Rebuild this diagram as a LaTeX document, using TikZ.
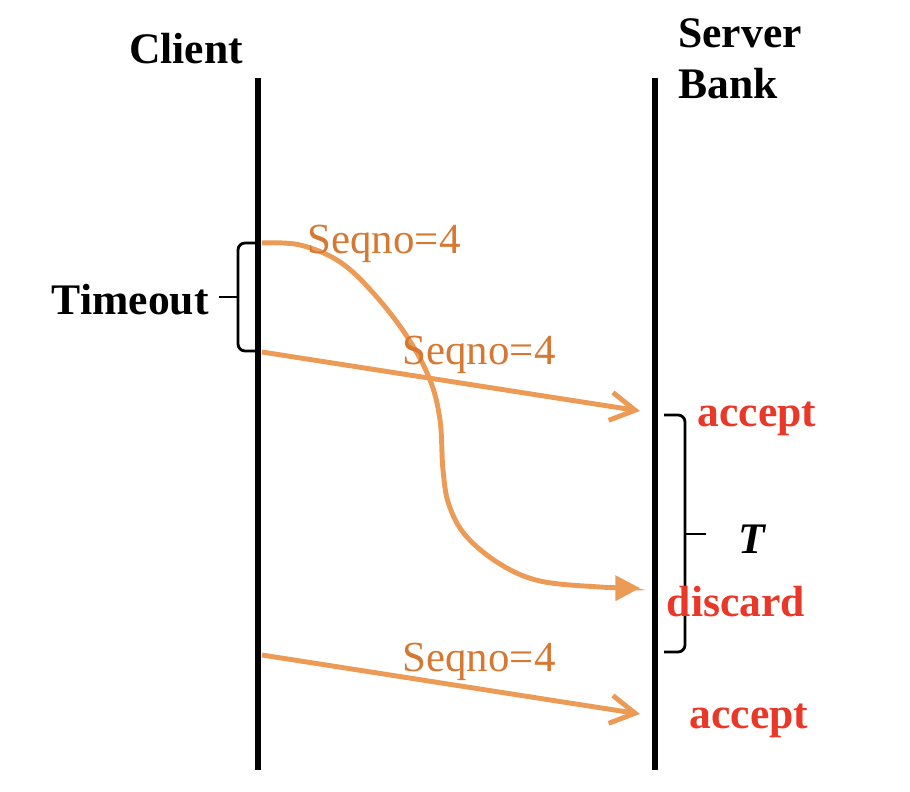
\documentclass[tikz,border=0pt]{standalone}
\usepackage{fontspec}
\setmainfont{Liberation Serif}
\usetikzlibrary{arrows.meta}
\definecolor{seqline}{RGB}{235,155,86}
\definecolor{seqtext}{RGB}{214,120,50}
\definecolor{verdict}{RGB}{233,55,40}
\tikzset{
  lifeline/.style={line width=1.5pt},
  msg/.style={seqline,line width=1.4pt,-{Straight Barb[length=7pt,width=8pt,line width=1.4pt]}},
  latemsg/.style={seqline,line width=1.4pt,-{Triangle[length=7pt,width=7pt]}},
  seqlabel/.style={text=seqtext,font=\fontsize{12.2}{14}\selectfont},
  verdictlabel/.style={text=verdict,font=\fontsize{12.4}{14}\selectfont\bfseries},
  hostlabel/.style={font=\fontsize{12.4}{14.5}\selectfont\bfseries},
  bracket/.style={line width=0.8pt,rounded corners=2pt}
}
\begin{document}
\begin{tikzpicture}[x=0.01cm,y=-0.01cm]
\useasboundingbox (0,0) rectangle (910,792);
%lifelines
\coordinate (cliTop) at (258,78);
\coordinate (cliBot) at (258,770);
\coordinate (srvTop) at (655,78);
\coordinate (srvBot) at (655,770);
\draw[lifeline] (cliTop) -- (cliBot);
\draw[lifeline] (srvTop) -- (srvBot);
\node[hostlabel] (client) at (186,49) {Client};
\node[hostlabel,align=left] (server) at (740,59) {Server\\Bank};
%send points on the client
\coordinate (send1) at (262,243);
\coordinate (send2) at (262,352);
\coordinate (send3) at (262,655);
%arrival points on the server
\coordinate (recv1) at (640,411);
\coordinate (recv2) at (640,588);
\coordinate (recv3) at (640,714);
%first copy, delayed
\draw[latemsg] plot[smooth,tension=0.6] coordinates {(send1) (300,245) (340,262) (375,295) (408,338) (430,380) (440,420) (443,470) (449,505) (466,536) (500,564) (540,581) (600,587) (recv2)};
\node[seqlabel] (seqA) at (384,244) {Seqno=4};
%retransmission
\draw[msg] (send2) -- (recv1);
\node[seqlabel] (seqB) at (479,355) {Seqno=4};
%later request
\draw[msg] (send3) -- (recv3);
\node[seqlabel] (seqC) at (479,662) {Seqno=4};
%timeout bracket
\draw[bracket] (258,243) -- (238,243) -- (238,351) -- (258,351);
\draw[line width=0.8pt] (238,297) -- (219,297);
\node[hostlabel,anchor=east] (timeout) at (221,300) {Timeout};
%T bracket
\draw[bracket] (664,415) -- (685,415) -- (685,652) -- (664,652);
\draw[line width=0.8pt] (685,534) -- (706,534);
\node[hostlabel] (window) at (752,539) {\itshape T};
%server decisions
\node[verdictlabel] (ok1) at (757,419) {accept};
\node[verdictlabel] (drop) at (736,602) {discard};
\node[verdictlabel] (ok2) at (749,721) {accept};
\end{tikzpicture}
\end{document}
